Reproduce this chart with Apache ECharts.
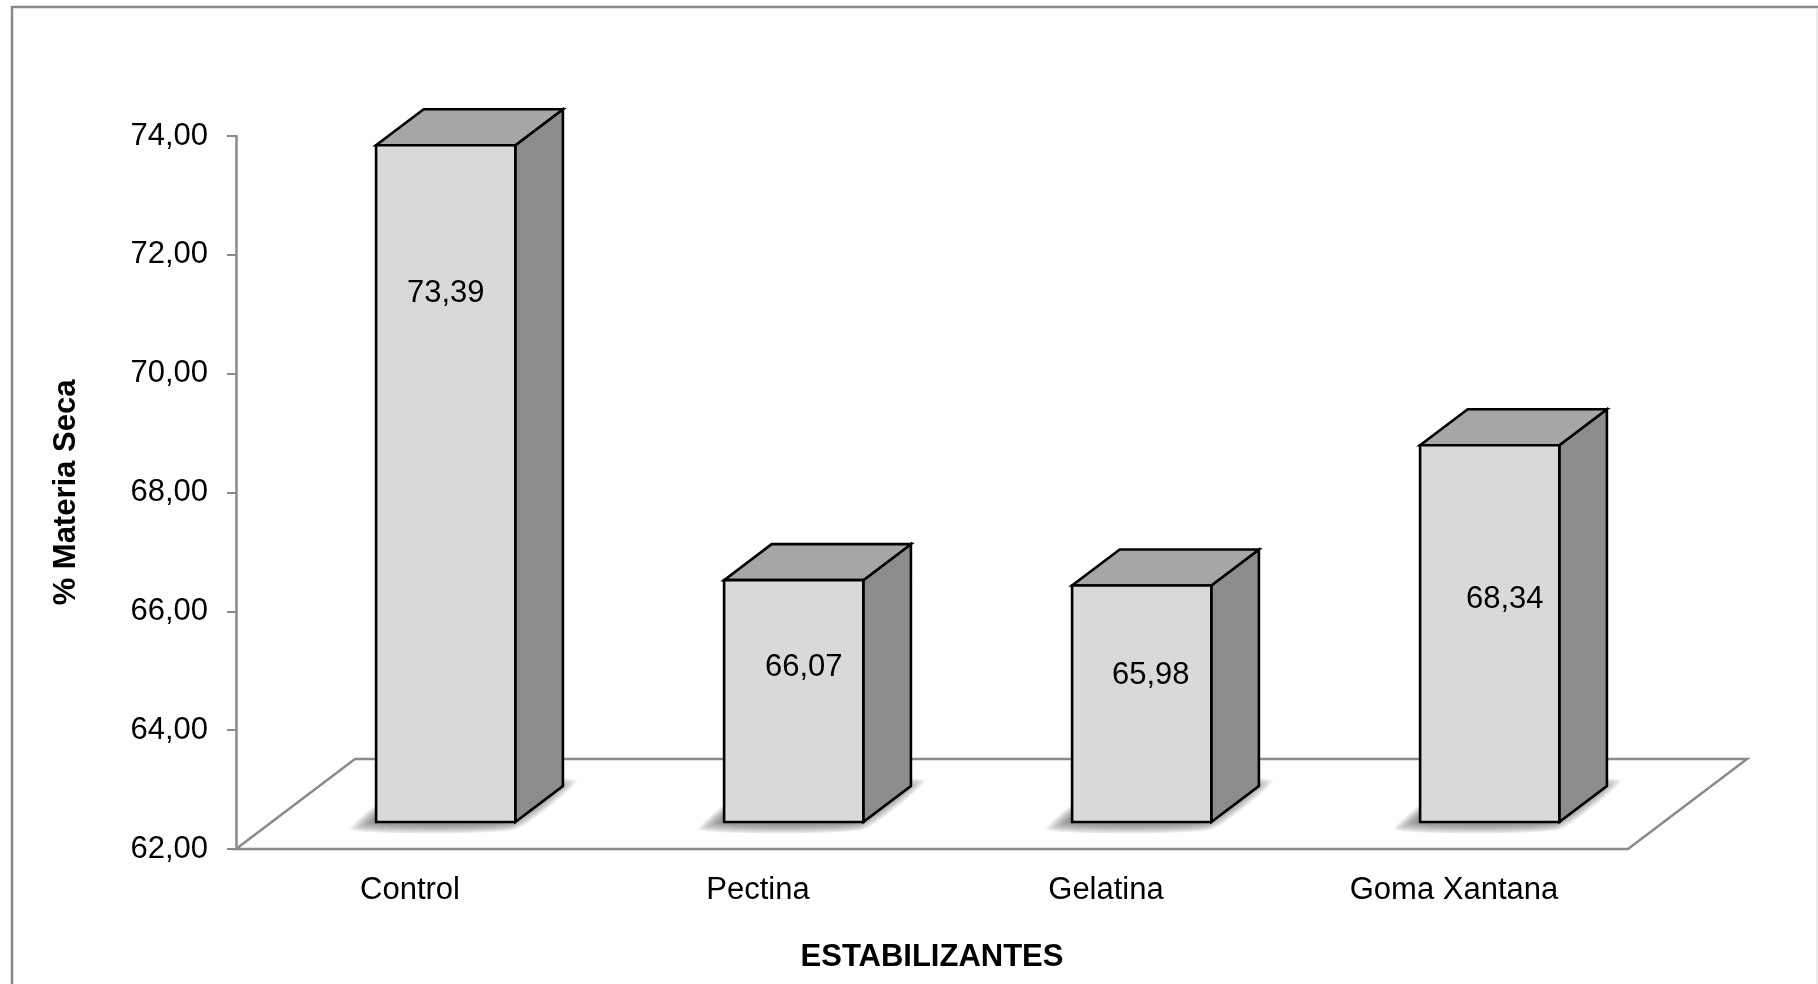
<!DOCTYPE html>
<html>
<head>
<meta charset="utf-8">
<title>% Materia Seca por estabilizante</title>
<script src="https://cdn.jsdelivr.net/npm/echarts@6/dist/echarts.min.js"></script>
<style>
  html, body { margin: 0; padding: 0; background: #ffffff; }
  #chart { width: 1818px; height: 984px; }
</style>
</head>
<body>
<div id="chart"></div>
<script>
// Data
const categories = ['Control', 'Pectina', 'Gelatina', 'Goma Xantana'];
const materiaSeca = [73.39, 66.07, 65.98, 68.34];
const yMin = 62;
const yMax = 74;
const yStep = 2;

// 3D look: floor depth projection and where the bars sit inside it
const DEPTH = { dx: 119, dy: -90 };
const BAR_FRONT = 0.3;   // fraction of depth where the bar's front face lies
const BAR_BACK = 0.7;    // fraction of depth where the bar's back face lies
const BAR_WIDTH = 0.4;   // fraction of the category band
// label placement inside each bar's front face: [x shift, drop below top]
const labelPlacement = [[0, 148], [10, 87], [9, 90], [15, 154]];

const FONT = '"Liberation Sans", Arial, sans-serif';
const AXIS_GREY = '#8a8a8a';

const fmt = v => v.toFixed(2).replace('.', ',');

function renderFloor(params, api) {
  const bw = api.size([1, 0])[0];
  const a = api.coord([0, yMin]);
  const b = api.coord([categories.length - 1, yMin]);
  const xl = a[0] - bw / 2, xr = b[0] + bw / 2, y = a[1];
  return {
    type: 'polygon',
    shape: { points: [[xl, y], [xr, y], [xr + DEPTH.dx, y + DEPTH.dy], [xl + DEPTH.dx, y + DEPTH.dy]] },
    style: { fill: '#ffffff', stroke: AXIS_GREY, lineWidth: 2.5, lineJoin: 'miter' }
  };
}

// soft drop shadow: stacked translucent copies of the bar footprint, each a little larger
function softShadow(x0, x1, yb, ddx, ddy) {
  const layers = [];
  const steps = 8, spread = 2.8, sx = -6, sy = 1;
  for (let k = steps - 1; k >= 0; k--) {
    const g = k * spread;
    layers.push({
      type: 'polygon',
      shape: {
        smooth: 0.15,
        points: [
          [x0 - g + sx, yb + g * 0.35 + sy],
          [x1 + g * 0.3 + sx, yb + g * 0.35 + sy],
          [x1 + ddx + g + sx, yb + ddy - g * 0.35 + sy],
          [x0 + ddx - g * 0.3 + sx, yb + ddy - g * 0.35 + sy]
        ]
      },
      style: { fill: 'rgba(0,0,0,0.06)' }
    });
  }
  return layers;
}

function renderBar(params, api) {
  const i = params.dataIndex;
  const v = api.value(1);
  const bw = api.size([1, 0])[0];
  const w = bw * BAR_WIDTH;
  const base = api.coord([i, yMin]);
  const top = api.coord([i, v]);
  const fx = DEPTH.dx * BAR_FRONT, fy = DEPTH.dy * BAR_FRONT;
  const ddx = DEPTH.dx * (BAR_BACK - BAR_FRONT), ddy = DEPTH.dy * (BAR_BACK - BAR_FRONT);
  const x0 = base[0] - w / 2 + fx, x1 = x0 + w;
  const yb = base[1] + fy, yt = top[1] + fy;
  const lp = labelPlacement[i];
  const edge = { stroke: '#000000', lineWidth: 2.6, lineJoin: 'miter' };
  return {
    type: 'group',
    children: softShadow(x0, x1, yb, ddx, ddy).concat([
      {
        type: 'polygon',
        shape: { points: [[x1, yb], [x1 + ddx, yb + ddy], [x1 + ddx, yt + ddy], [x1, yt]] },
        style: Object.assign({ fill: '#8c8c8c' }, edge)
      },
      {
        type: 'polygon',
        shape: { points: [[x0, yt], [x1, yt], [x1 + ddx, yt + ddy], [x0 + ddx, yt + ddy]] },
        style: Object.assign({ fill: '#a6a6a6' }, edge)
      },
      {
        type: 'rect',
        shape: { x: x0, y: yt, width: w, height: yb - yt },
        style: Object.assign({ fill: '#d9d9d9' }, edge)
      },
      {
        type: 'text',
        x: (x0 + x1) / 2 + lp[0],
        y: yt + lp[1],
        style: {
          text: fmt(v), fill: '#000000', font: '31px ' + FONT,
          align: 'center', verticalAlign: 'middle'
        }
      }
    ])
  };
}

const chart = echarts.init(document.getElementById('chart'), null, { renderer: 'canvas' });

chart.setOption({
  backgroundColor: '#ffffff',
  animation: false,
  graphic: [
    {
      type: 'polyline',
      shape: { points: [[12, 990], [12, 7], [1830, 7]] },
      style: { stroke: '#8a8a8a', lineWidth: 2.5, fill: null }
    },
    {
      type: 'line',
      shape: { x1: 1817, y1: 8, x2: 1817, y2: 990 },
      style: { stroke: '#e4e4e4', lineWidth: 1.5 }
    }
  ],
  grid: { left: 236, right: 190, top: 136, bottom: 135, containLabel: false },
  xAxis: {
    type: 'category',
    data: categories,
    boundaryGap: true,
    axisLine: { show: false },
    axisTick: { show: false },
    axisLabel: { color: '#000000', fontSize: 31, fontFamily: FONT, margin: 26 },
    name: 'ESTABILIZANTES',
    nameLocation: 'middle',
    nameGap: 93,
    nameTextStyle: { color: '#000000', fontSize: 31, fontWeight: 'bold', fontFamily: FONT }
  },
  yAxis: {
    type: 'value',
    min: yMin,
    max: yMax,
    interval: yStep,
    splitLine: { show: false },
    axisLine: { show: true, lineStyle: { color: AXIS_GREY, width: 2.5 } },
    axisTick: { show: true, length: 9, lineStyle: { color: AXIS_GREY, width: 2 } },
    axisLabel: { color: '#000000', fontSize: 31, fontFamily: FONT, margin: 28, formatter: fmt },
    name: '% Materia Seca',
    nameLocation: 'middle',
    nameRotate: 90,
    nameGap: 154,
    nameTextStyle: { color: '#000000', fontSize: 31, fontWeight: 'bold', fontFamily: FONT }
  },
  series: [
    {
      type: 'custom',
      name: 'piso',
      z: 1,
      clip: false,
      silent: true,
      renderItem: renderFloor,
      data: [[0, yMin]]
    },
    {
      type: 'custom',
      name: '% Materia Seca',
      z: 3,
      clip: false,
      renderItem: renderBar,
      encode: { x: 0, y: 1 },
      data: materiaSeca.map((v, i) => [i, v])
    }
  ]
});
</script>
</body>
</html>
